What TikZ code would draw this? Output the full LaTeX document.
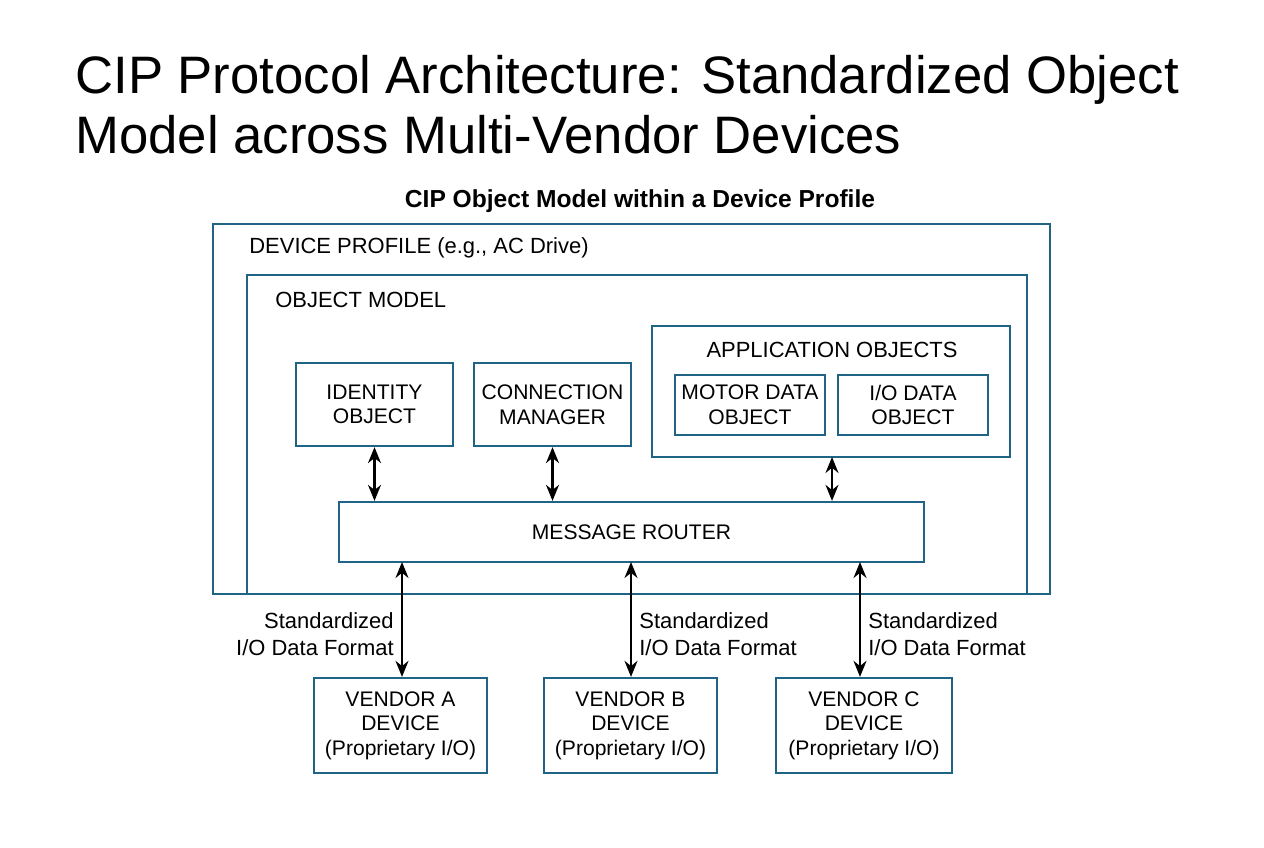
\documentclass[tikz,border=0pt]{standalone}
\usepackage{fontspec}
\setmainfont{Liberation Sans}
\usetikzlibrary{arrows.meta, positioning}
\definecolor{boxblue}{HTML}{1F6385}
\tikzstyle{frame} = [draw=boxblue, line width=1.3pt]
\tikzstyle{block} = [rectangle, draw=boxblue, line width=1.3pt, align=center, font=\fontsize{12}{14}\selectfont, inner sep=0pt]
\tikzstyle{tag} = [font=\fontsize{12.5}{15}\selectfont, align=left, inner sep=0pt]
\tikzstyle{link} = [{Stealth[length=3.2mm, width=2.6mm]}-{Stealth[length=3.2mm, width=2.6mm]}, line width=1.2pt]
\begin{document}
\begin{tikzpicture}[x=0.02cm, y=-0.02cm]
\useasboundingbox (0,0) rectangle (1264,848);
\node (title) [anchor=north west, align=left, inner sep=0pt, font=\fontsize{30}{34}\selectfont] at (75,55) {CIP Protocol Architecture: Standardized Object\\Model across Multi-Vendor Devices};
\node (subtitle) [font=\bfseries\fontsize{14}{16}\selectfont] at (640,201) {CIP Object Model within a Device Profile};

\draw[frame] (213,224) rectangle (1050,594);
\node (profile) [tag, anchor=west] at (249,248) {DEVICE PROFILE (e.g., AC Drive)};
\draw[frame] (247,275) rectangle (1027,594);
\node (model) [tag, anchor=west] at (275,300) {OBJECT MODEL};
\draw[frame] (652,326) rectangle (1010,457);
\node (appobj) [tag] at (832,350) {APPLICATION OBJECTS};
\coordinate (appbot) at (832,457);

\node (motor) [block, minimum width=3cm, minimum height=1.2cm] at (750,405) {MOTOR DATA\\OBJECT};
\node (iodata) [block, minimum width=3cm, minimum height=1.2cm] at (913,405) {I/O DATA\\OBJECT};
\node (identity) [block, minimum width=3.14cm, minimum height=1.66cm] at (374.5,404.5) {IDENTITY\\OBJECT};
\node (connmgr) [block, minimum width=3.14cm, minimum height=1.66cm] at (552.5,404.5) {CONNECTION\\MANAGER};
\node (router) [block, minimum width=11.7cm, minimum height=1.2cm] at (631.5,532) {MESSAGE ROUTER};

\node (vendorA) [block, minimum width=3.46cm, minimum height=1.9cm] at (400.5,725.5) {VENDOR A\\DEVICE\\(Proprietary I/O)};
\node (vendorB) [block, minimum width=3.46cm, minimum height=1.9cm] at (630.5,725.5) {VENDOR B\\DEVICE\\(Proprietary I/O)};
\node (vendorC) [block, minimum width=3.52cm, minimum height=1.9cm] at (864,725.5) {VENDOR C\\DEVICE\\(Proprietary I/O)};

\draw[link] (identity.south) -- (identity.south |- router.north);
\draw[link] (connmgr.south) -- (connmgr.south |- router.north);
\draw[link] (appbot) -- (appbot |- router.north);

\draw[link] (vendorA.north -| 402,0) -- (402,562);
\draw[link] (vendorB.north -| 631,0) -- (631,562);
\draw[link] (vendorC.north -| 860,0) -- (860,562);

\node (fmtA) [tag, align=right, anchor=east] at (394,634) {Standardized\\I/O Data Format};
\node (fmtB) [tag, anchor=west] at (639,634) {Standardized\\I/O Data Format};
\node (fmtC) [tag, anchor=west] at (868,634) {Standardized\\I/O Data Format};
\end{tikzpicture}
\end{document}
